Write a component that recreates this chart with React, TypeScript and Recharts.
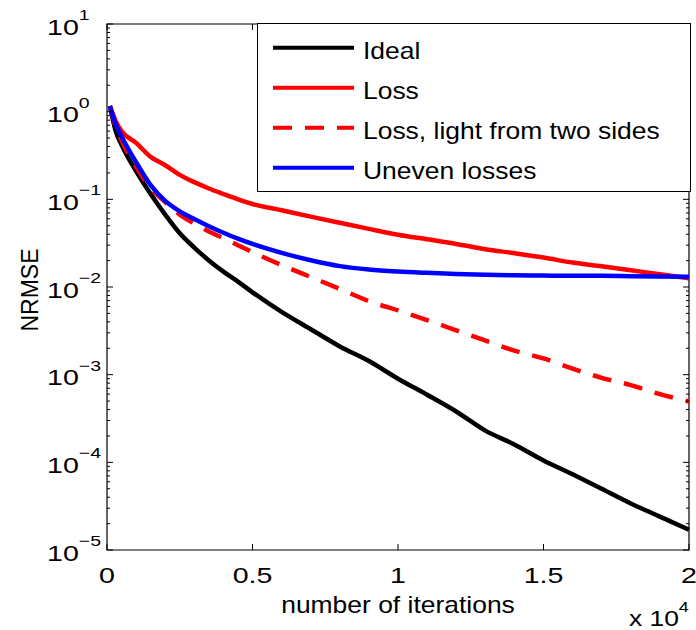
import React from "react";
import { Legend, Line, LineChart, ReferenceArea, XAxis, YAxis } from "recharts";

// iterations (x axis) and NRMSE values
const iterations = [
  100, 300, 500, 1000, 1500, 2000, 2500, 3000, 3500, 4000, 4500, 5000, 6000,
  7000, 8000, 9000, 10000, 11000, 12000, 13000, 14000, 15000, 16000, 17000,
  18000, 19000, 20000,
];
const ideal = [
  1.16, 0.6, 0.42, 0.21, 0.115, 0.067, 0.041, 0.0282, 0.0201, 0.015, 0.0115,
  0.0087, 0.0052, 0.0033, 0.0021, 0.00143, 0.0009, 0.00059, 0.00038, 0.00023,
  0.00016, 0.000105, 0.000073, 0.00005, 0.000034, 0.000024, 0.000017,
];
const loss = [
  1.16, 0.78, 0.6, 0.44, 0.305, 0.245, 0.19, 0.157, 0.133, 0.115, 0.1, 0.0885,
  0.075, 0.0635, 0.054, 0.046, 0.0395, 0.035, 0.031, 0.027, 0.0243, 0.0217,
  0.019, 0.0172, 0.0155, 0.014, 0.0126,
];
const lossTwoSides = [
  1.16, 0.68, 0.47, 0.235, 0.135, 0.093, 0.067, 0.053, 0.043, 0.036, 0.03,
  0.025, 0.0178, 0.013, 0.0095, 0.0069, 0.0054, 0.0042, 0.0032, 0.00245,
  0.00188, 0.00153, 0.00117, 0.00092, 0.00076, 0.0006, 0.000495,
];
const unevenLosses = [
  1.16, 0.72, 0.52, 0.265, 0.145, 0.096, 0.073, 0.0596, 0.0494, 0.0416,
  0.0357, 0.031, 0.0245, 0.0202, 0.0173, 0.0158, 0.015, 0.0145, 0.0141,
  0.0138, 0.0136, 0.0135, 0.0134, 0.0134, 0.0133, 0.0132, 0.0131,
];

const seriesNames = ["Ideal", "Loss", "Loss, light from two sides", "Uneven losses"];
const xTicks = [0, 5000, 10000, 15000, 20000];
const xTickLabels = ["0", "0.5", "1", "1.5", "2"];
const yExponents = [-5, -4, -3, -2, -1, 0, 1];
const minorSteps = [2, 3, 4, 5, 6, 7, 8, 9];

// styles
const seriesKeys = ["ideal", "loss", "lossTwoSides", "uneven"];
const seriesColors = ["#000000", "#ff0000", "#ff0000", "#0000ff"];
const seriesDash = [undefined, undefined, "19 13", undefined];
const FONT = "'Liberation Sans', Arial, Helvetica, sans-serif";

// plot box (from margins + axis sizes below)
const L = 107;
const R = 689;
const T = 24;
const B = 550;

const data = iterations.map((it, i) => ({
  it,
  ideal: ideal[i],
  loss: loss[i],
  lossTwoSides: lossTwoSides[i],
  uneven: unevenLosses[i],
}));

const yTicks: number[] = [];
yExponents.forEach((e) => {
  yTicks.push(Math.pow(10, e));
  if (e < 1) minorSteps.forEach((k) => yTicks.push(k * Math.pow(10, e)));
});

function YTick(props: any) {
  const { y, payload } = props;
  const lg = Math.log10(payload.value);
  const e = Math.round(lg);
  const major = Math.abs(lg - e) < 1e-6;
  const len = major ? 6 : 3;
  const exp = e < 0 ? "\u2212" + Math.abs(e) : String(e);
  return (
    <g>
      <line x1={L} x2={L + len} y1={y} y2={y} stroke="#000" />
      <line x1={R - len} x2={R} y1={y} y2={y} stroke="#000" />
      {major && (
        <g transform={`translate(47, ${y}) scale(1.3, 1)`}>
          <text x={0} y={10.5} fontSize={22} fontFamily={FONT} fill="#000">
            10
            <tspan fontSize={15} dy={-14.5}>
              {exp}
            </tspan>
          </text>
        </g>
      )}
    </g>
  );
}

function XTick(props: any) {
  const { x, payload, index } = props;
  const i = xTicks.indexOf(payload.value);
  return (
    <g>
      <line x1={x} x2={x} y1={B} y2={B - 6} stroke="#000" />
      <line x1={x} x2={x} y1={T} y2={T + 6} stroke="#000" />
      <g transform={`translate(${x}, 583) scale(1.3, 1)`}>
        <text x={0} y={0} textAnchor="middle" fontSize={22} fontFamily={FONT} fill="#000">
          {xTickLabels[i >= 0 ? i : index]}
        </text>
      </g>
    </g>
  );
}

function XLabel() {
  return (
    <g fontFamily={FONT} fill="#000">
      <g transform={`translate(${(L + R) / 2}, 613) scale(1.15, 1)`}>
        <text x={0} y={0} textAnchor="middle" fontSize={23}>
          number of iterations
        </text>
      </g>
      <g transform="translate(629, 626) scale(1.2, 1)">
        <text x={0} y={0} fontSize={22}>
          x 10
          <tspan fontSize={15} dy={-14}>
            4
          </tspan>
        </text>
      </g>
    </g>
  );
}

function YLabel() {
  return (
    <text
      transform={`translate(38, ${(T + B) / 2 + 3}) rotate(-90)`}
      textAnchor="middle"
      fontSize={23}
      fontFamily={FONT}
      fill="#000"
    >
      NRMSE
    </text>
  );
}

function LegendBox() {
  return (
    <svg width={434} height={169} style={{ display: "block" }}>
      <rect x={0.5} y={0.5} width={433} height={168} fill="#fff" stroke="#000" />
      {seriesNames.map((name, i) => {
        const cy = 24.7 + i * 40;
        return (
          <g key={name}>
            <line
              x1={16}
              x2={97}
              y1={cy}
              y2={cy}
              stroke={seriesColors[i]}
              strokeWidth={4}
              strokeDasharray={seriesDash[i]}
            />
            <g transform={`translate(106, ${cy + 11}) scale(1.15, 1)`}>
              <text x={0} y={0} fontSize={23} fontFamily={FONT} fill="#000">
                {name}
              </text>
            </g>
          </g>
        );
      })}
    </svg>
  );
}

export default function App() {
  return (
    <div style={{ position: "absolute", left: 0, top: 0, background: "#fff" }}>
      <LineChart
        width={696}
        height={630}
        data={data}
        margin={{ top: T, right: 696 - R, bottom: 0, left: 0 }}
      >
        <XAxis
          dataKey="it"
          type="number"
          domain={[0, 20000]}
          ticks={xTicks}
          interval={0}
          height={630 - B}
          tickLine={false}
          axisLine={false}
          tick={<XTick />}
          label={<XLabel />}
        />
        <YAxis
          type="number"
          scale="log"
          domain={[1e-5, 10]}
          allowDataOverflow
          ticks={yTicks}
          interval={0}
          width={L}
          tickLine={false}
          axisLine={false}
          tick={<YTick />}
          label={<YLabel />}
        />
        {seriesKeys.map((k, i) => (
          <Line
            key={k}
            dataKey={k}
            name={seriesNames[i]}
            type="monotone"
            stroke={seriesColors[i]}
            strokeWidth={4.5}
            strokeDasharray={seriesDash[i]}
            dot={false}
            activeDot={false}
            isAnimationActive={false}
          />
        ))}
        <ReferenceArea
          x1={0}
          x2={20000}
          y1={1e-5}
          y2={10}
          fill="none"
          stroke="#000"
          strokeWidth={1.2}
          fillOpacity={0}
        />
        <Legend
          verticalAlign="middle"
          align="center"
          content={() => <LegendBox />}
          wrapperStyle={{ left: 257, top: 23, width: 434, height: 169, margin: 0, padding: 0 }}
        />
      </LineChart>
    </div>
  );
}
